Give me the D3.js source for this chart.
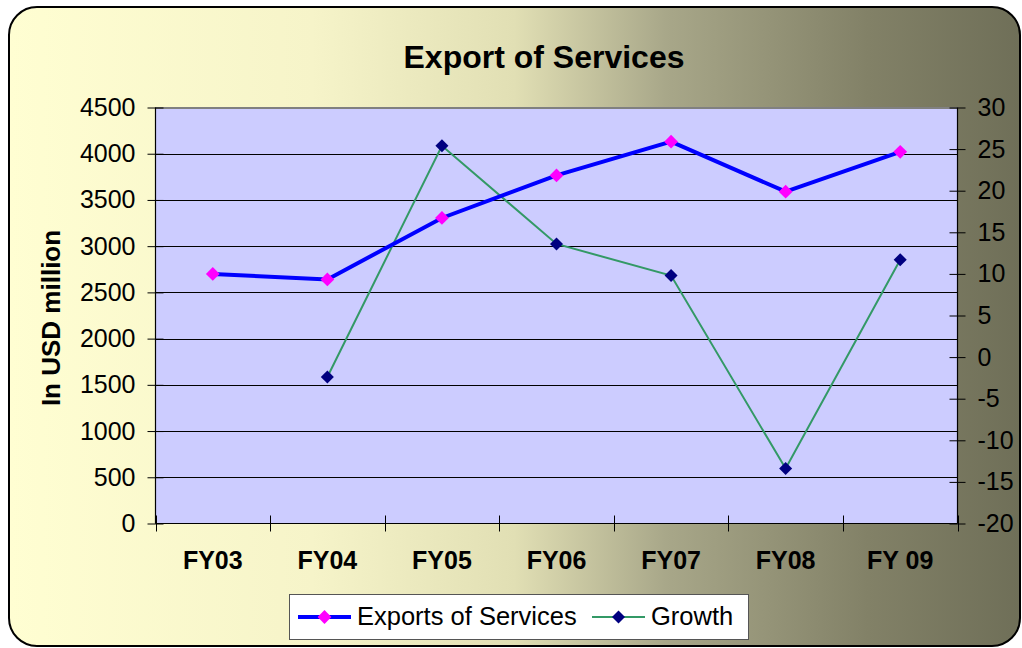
<!DOCTYPE html>
<html>
<head>
<meta charset="utf-8">
<script src="https://cdn.jsdelivr.net/npm/d3@7"></script>
<style>
  body { margin: 0; background: #fff; }
  text { font-family: "Liberation Sans", Arial, sans-serif; }
</style>
</head>
<body>
<script>
'use strict'

const width = 1022
const height = 648

// data
const years = ['FY03', 'FY04', 'FY05', 'FY06', 'FY07', 'FY08', 'FY 09']
const exports = [2700, 2640, 3305, 3765, 4130, 3590, 4020]
const growth = [null, -2.4, 25.4, 13.6, 9.8, -13.4, 11.7]
const leftTicks = [0, 500, 1000, 1500, 2000, 2500, 3000, 3500, 4000, 4500]
const rightTicks = [-20, -15, -10, -5, 0, 5, 10, 15, 20, 25, 30]

const plot = { left: 155.5, right: 957.5, top: 107.5, bottom: 523.5 }

const svg = d3.select('body').append('svg')
    .attr('width', width)
    .attr('height', height)

const defs = svg.append('defs')
const grad = defs.append('linearGradient').attr('id', 'bg')
    .attr('x1', '0%').attr('x2', '100%').attr('y1', '0%').attr('y2', '0%')
grad.selectAll('stop')
    .data([[0, '#fffed2'], [0.3, '#f6f4c9'], [0.5, '#e1dfb4'], [0.65, '#a8a789'], [0.85, '#828167'], [1, '#6f6f58']])
    .enter().append('stop')
    .attr('offset', d => d[0])
    .attr('stop-color', d => d[1])

// chart frame
svg.append('rect')
    .attr('x', 9).attr('y', 7)
    .attr('width', 1011).attr('height', 639)
    .attr('rx', 28).attr('ry', 28)
    .attr('fill', 'url(#bg)')
    .attr('stroke', '#000')
    .attr('stroke-width', 2)

svg.append('text')
    .attr('x', 544).attr('y', 68)
    .attr('text-anchor', 'middle')
    .style('font-size', '32px').style('font-weight', 'bold')
    .text('Export of Services')

const x = d3.scaleBand().domain(years).range([plot.left, plot.right])
const yL = d3.scaleLinear().domain([0, 4500]).range([plot.bottom, plot.top])
const yR = d3.scaleLinear().domain([-20, 30]).range([plot.bottom, plot.top])

// plot area
svg.append('rect')
    .attr('x', plot.left).attr('y', plot.top)
    .attr('width', plot.right - plot.left).attr('height', plot.bottom - plot.top)
    .attr('fill', '#ccccff')
    .attr('stroke', '#808080')
    .attr('stroke-width', 1)

svg.append('g')
    .selectAll('line')
    .data(leftTicks.slice(1))
    .enter().append('line')
    .attr('x1', plot.left).attr('x2', plot.right)
    .attr('y1', d => Math.round(yL(d)) + 0.5).attr('y2', d => Math.round(yL(d)) + 0.5)
    .attr('stroke', d => d === 4500 ? '#808080' : '#000')
    .attr('stroke-width', 1)

// axes
const fmt = d => String(d)
const axisLeft = svg.append('g')
    .attr('transform', `translate(${plot.left},0)`)
    .call(d3.axisLeft(yL).tickValues(leftTicks).tickFormat(fmt).tickSize(8).tickPadding(12))
axisLeft.selectAll('.tick').append('line').attr('x1', 0).attr('x2', 8).attr('stroke', '#000')

const axisRight = svg.append('g')
    .attr('transform', `translate(${plot.right},0)`)
    .call(d3.axisRight(yR).tickValues(rightTicks).tickFormat(fmt).tickSize(8).tickPadding(12))
axisRight.selectAll('.tick').append('line').attr('x1', 0).attr('x2', -8).attr('stroke', '#000')

const axisBottom = svg.append('g')
    .attr('transform', `translate(0,${plot.bottom})`)
    .call(d3.axisBottom(x).tickSize(0).tickPadding(28))
axisBottom.append('g')
    .selectAll('line')
    .data(years.map(d => x(d)).concat([plot.right]))
    .enter().append('line')
    .attr('x1', d => Math.round(d) + 0.5).attr('x2', d => Math.round(d) + 0.5)
    .attr('y1', -8).attr('y2', 8)
    .attr('stroke', '#000')

svg.selectAll('.domain').attr('stroke', '#000').attr('stroke-width', 1.2)
svg.selectAll('.tick line').attr('stroke', '#000')
axisLeft.selectAll('text').style('font-size', '25px').attr('fill', '#000')
axisRight.selectAll('text').style('font-size', '25px').attr('fill', '#000')
axisBottom.selectAll('text').style('font-size', '25px').style('font-weight', 'bold').attr('fill', '#000')
axisLeft.select('.domain').attr('d', `M0,${plot.bottom}V${plot.top}`)
axisRight.select('.domain').attr('d', `M0,${plot.bottom}V${plot.top}`)
axisBottom.select('.domain').attr('d', `M${plot.left},0H${plot.right}`)

svg.append('text')
    .attr('transform', 'translate(60,318) rotate(-90)')
    .attr('text-anchor', 'middle')
    .style('font-size', '26px').style('font-weight', 'bold')
    .text('In USD million')

const cx = d => x(d) + x.bandwidth() / 2

// growth series
const gData = years.map((d, i) => ({ year: d, v: growth[i] })).filter(d => d.v !== null)
svg.append('path')
    .datum(gData)
    .attr('fill', 'none')
    .attr('stroke', '#339966')
    .attr('stroke-width', 2)
    .attr('d', d3.line().x(d => cx(d.year)).y(d => yR(d.v)))
svg.append('g').selectAll('path')
    .data(gData)
    .enter().append('path')
    .attr('transform', d => `translate(${cx(d.year)},${yR(d.v)}) rotate(45)`)
    .attr('d', d3.symbol().type(d3.symbolSquare).size(85))
    .attr('fill', '#000080')

// exports series
const eData = years.map((d, i) => ({ year: d, v: exports[i] }))
svg.append('path')
    .datum(eData)
    .attr('fill', 'none')
    .attr('stroke', '#0000ff')
    .attr('stroke-width', 4)
    .attr('d', d3.line().x(d => cx(d.year)).y(d => yL(d.v)))
svg.append('g').selectAll('path')
    .data(eData)
    .enter().append('path')
    .attr('transform', d => `translate(${cx(d.year)},${yL(d.v)}) rotate(45)`)
    .attr('d', d3.symbol().type(d3.symbolSquare).size(95))
    .attr('fill', '#ff00ff')

// legend
const legend = svg.append('g')
legend.append('rect')
    .attr('x', 289.5).attr('y', 594.5)
    .attr('width', 459).attr('height', 45)
    .attr('fill', '#fff')
    .attr('stroke', '#555')
    .attr('stroke-width', 1)
const legendItems = [
    { label: 'Exports of Services', x: 298, line: '#0000ff', lw: 4, marker: '#ff00ff', size: 95 },
    { label: 'Growth', x: 592, line: '#339966', lw: 2, marker: '#000080', size: 85 }
]
legendItems.forEach(it => {
    legend.append('line')
        .attr('x1', it.x).attr('x2', it.x + 53)
        .attr('y1', 617).attr('y2', 617)
        .attr('stroke', it.line).attr('stroke-width', it.lw)
    legend.append('path')
        .attr('transform', `translate(${it.x + 26.5},617) rotate(45)`)
        .attr('d', d3.symbol().type(d3.symbolSquare).size(it.size))
        .attr('fill', it.marker)
    legend.append('text')
        .attr('x', it.x + 59).attr('y', 625)
        .style('font-size', '25.5px')
        .text(it.label)
})
</script>
</body>
</html>
